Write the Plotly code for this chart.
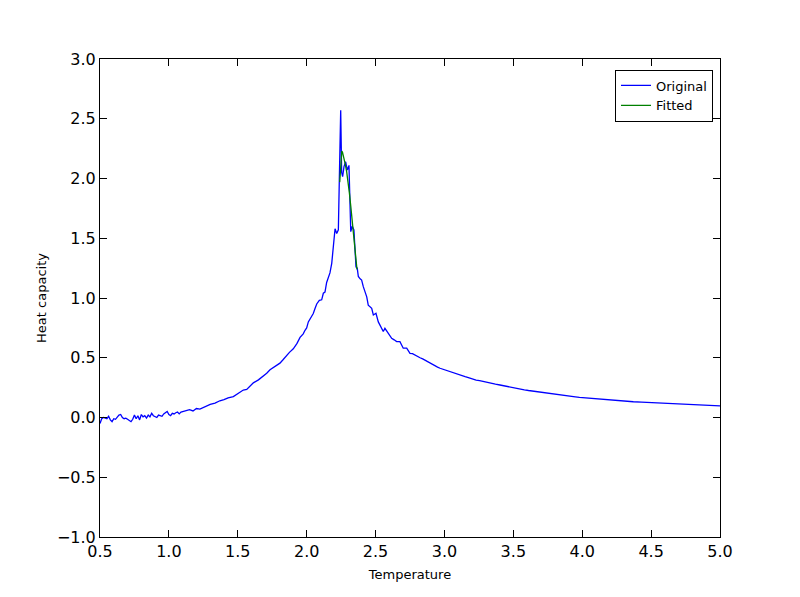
import plotly.graph_objects as go

# Original data: temperature and heat capacity
T_orig = [0.50, 0.5125, 0.525, 0.5375, 0.55, 0.5625, 0.575, 0.5875, 0.60, 0.6125,
          0.625, 0.6375, 0.65, 0.6625, 0.675, 0.6875, 0.70, 0.7125, 0.725, 0.7375,
          0.75, 0.7625, 0.775, 0.7875, 0.80, 0.8125, 0.825, 0.8375, 0.85, 0.8625,
          0.875, 0.8875, 0.90, 0.9125, 0.925, 0.9375, 0.95, 0.9625, 0.975, 0.9875,
          1.00, 1.0125, 1.025, 1.0375, 1.05, 1.0625, 1.075, 1.0875, 1.10, 1.125,
          1.15, 1.175, 1.20, 1.225, 1.25, 1.275, 1.30, 1.335, 1.37, 1.40,
          1.43, 1.468, 1.50, 1.54, 1.565, 1.59, 1.613, 1.65, 1.685, 1.71,
          1.734, 1.76, 1.782, 1.806, 1.83, 1.855, 1.875, 1.903, 1.93, 1.952,
          1.975, 1.988, 2.00, 2.012, 2.03, 2.048, 2.06, 2.073, 2.092, 2.109,
          2.121, 2.133, 2.145, 2.157, 2.169, 2.182, 2.193, 2.206, 2.218, 2.23,
          2.237, 2.247, 2.254, 2.261, 2.271, 2.283, 2.295, 2.307, 2.32, 2.331,
          2.343, 2.358, 2.367, 2.375, 2.388, 2.399, 2.411, 2.423, 2.436, 2.447,
          2.46, 2.472, 2.484, 2.503, 2.52, 2.533, 2.545, 2.556, 2.568, 2.593,
          2.617, 2.635, 2.653, 2.677, 2.701, 2.726, 2.75, 2.768, 2.786, 2.805,
          2.823, 2.842, 2.86, 2.878, 2.895, 2.913, 2.93, 2.95, 2.968, 2.985,
          3.00, 3.02, 3.04, 3.058, 3.075, 3.095, 3.113, 3.13, 3.15, 3.168,
          3.185, 3.21, 3.23, 3.255, 3.282, 3.31, 3.34, 3.37, 3.403, 3.43,
          3.46, 3.49, 3.524, 3.55, 3.58, 3.61, 3.645, 3.67, 3.70, 3.735,
          3.766, 3.80, 3.83, 3.86, 3.887, 3.92, 3.95, 3.98, 4.008, 4.07,
          4.129, 4.19, 4.25, 4.31, 4.371, 4.43, 4.492, 4.55, 4.613, 4.67,
          4.734, 4.79, 4.855, 4.92, 5.00]
C_orig = [-0.05, -0.01, 0.00, -0.005, -0.01, 0.01, -0.02, -0.035, -0.01, -0.015,
          0.005, 0.02, 0.025, 0.00, -0.01, -0.005, -0.015, -0.025, -0.035, -0.015,
          0.02, -0.01, 0.015, -0.02, 0.025, 0.005, 0.015, -0.005, 0.02, 0.005,
          0.035, 0.015, 0.01, 0.00, 0.02, 0.015, 0.01, 0.03, 0.04, 0.05,
          0.025, 0.015, 0.035, 0.03, 0.04, 0.045, 0.03, 0.045, 0.05, 0.055,
          0.065, 0.055, 0.075, 0.07, 0.085, 0.095, 0.11, 0.12, 0.14, 0.15,
          0.165, 0.175, 0.20, 0.23, 0.235, 0.265, 0.29, 0.315, 0.345, 0.37,
          0.40, 0.42, 0.44, 0.455, 0.485, 0.52, 0.545, 0.575, 0.62, 0.67,
          0.70, 0.73, 0.75, 0.80, 0.83, 0.87, 0.91, 0.95, 0.98, 0.985,
          1.04, 1.05, 1.13, 1.17, 1.21, 1.29, 1.43, 1.58, 1.54, 1.57,
          1.99, 2.57, 2.05, 2.015, 2.10, 2.14, 2.07, 2.11, 1.555, 1.60,
          1.57, 1.26, 1.25, 1.18, 1.16, 1.15, 1.095, 1.06, 1.01, 0.94,
          0.93, 0.914, 0.858, 0.872, 0.80, 0.77, 0.746, 0.72, 0.746, 0.70,
          0.663, 0.65, 0.635, 0.635, 0.58, 0.58, 0.537, 0.535, 0.523, 0.505,
          0.500, 0.490, 0.478, 0.470, 0.453, 0.448, 0.430, 0.422, 0.412, 0.405,
          0.398, 0.390, 0.383, 0.375, 0.370, 0.362, 0.356, 0.350, 0.342, 0.336,
          0.328, 0.320, 0.313, 0.308, 0.300, 0.293, 0.285, 0.279, 0.272, 0.265,
          0.258, 0.252, 0.244, 0.238, 0.232, 0.226, 0.220, 0.216, 0.211, 0.207,
          0.203, 0.197, 0.191, 0.186, 0.180, 0.176, 0.173, 0.169, 0.166, 0.159,
          0.152, 0.147, 0.142, 0.137, 0.132, 0.128, 0.125, 0.121, 0.118, 0.114,
          0.111, 0.108, 0.105, 0.101, 0.097]

# Fitted curve near the critical temperature
T_fit = [2.240, 2.245, 2.250, 2.255, 2.260, 2.270, 2.280, 2.290, 2.300, 2.310,
         2.320, 2.330, 2.340, 2.350, 2.360, 2.365]
C_fit = [1.97, 2.10, 2.20, 2.23, 2.22, 2.18, 2.12, 2.06, 1.98, 1.88,
         1.77, 1.65, 1.52, 1.40, 1.29, 1.24]

x_ticks = [0.5, 1.0, 1.5, 2.0, 2.5, 3.0, 3.5, 4.0, 4.5, 5.0]
y_ticks = [-1.0, -0.5, 0.0, 0.5, 1.0, 1.5, 2.0, 2.5, 3.0]
x_labels = [f"{v:.1f}" for v in x_ticks]
y_labels = [f"{v:.1f}".replace("-", "\u2212") for v in y_ticks]

fig = go.Figure()
fig.add_trace(go.Scatter(x=T_orig, y=C_orig, mode="lines", name="Original",
                         line=dict(color="#0000ff", width=1.3)))
fig.add_trace(go.Scatter(x=T_fit, y=C_fit, mode="lines", name="Fitted",
                         line=dict(color="#008000", width=1.3)))

axis_common = dict(showline=True, linecolor="black", linewidth=1, mirror="ticks",
                   ticks="inside", ticklen=7, tickcolor="black", showgrid=False,
                   zeroline=False, tickfont=dict(family="DejaVu Sans", size=16, color="black"))

fig.update_layout(
    width=792, height=589,
    margin=dict(l=92, r=80, t=51, b=60),
    paper_bgcolor="white", plot_bgcolor="white",
    font=dict(family="DejaVu Sans", color="black"),
    xaxis=dict(range=[0.5, 5.0], tickvals=x_ticks, ticktext=x_labels,
               title=dict(text="Temperature", font=dict(size=13), standoff=9),
               **axis_common),
    yaxis=dict(range=[-1.0, 3.0], tickvals=y_ticks, ticktext=y_labels,
               title=dict(text="Heat capacity", font=dict(size=13), standoff=7),
               **axis_common),
    legend=dict(x=0.9887, y=0.978, xanchor="right", yanchor="top",
                bgcolor="white", bordercolor="black", borderwidth=1,
                font=dict(family="DejaVu Sans", size=13), itemwidth=30,
                tracegroupgap=0),
    showlegend=True,
)

fig.write_html("out.html")
